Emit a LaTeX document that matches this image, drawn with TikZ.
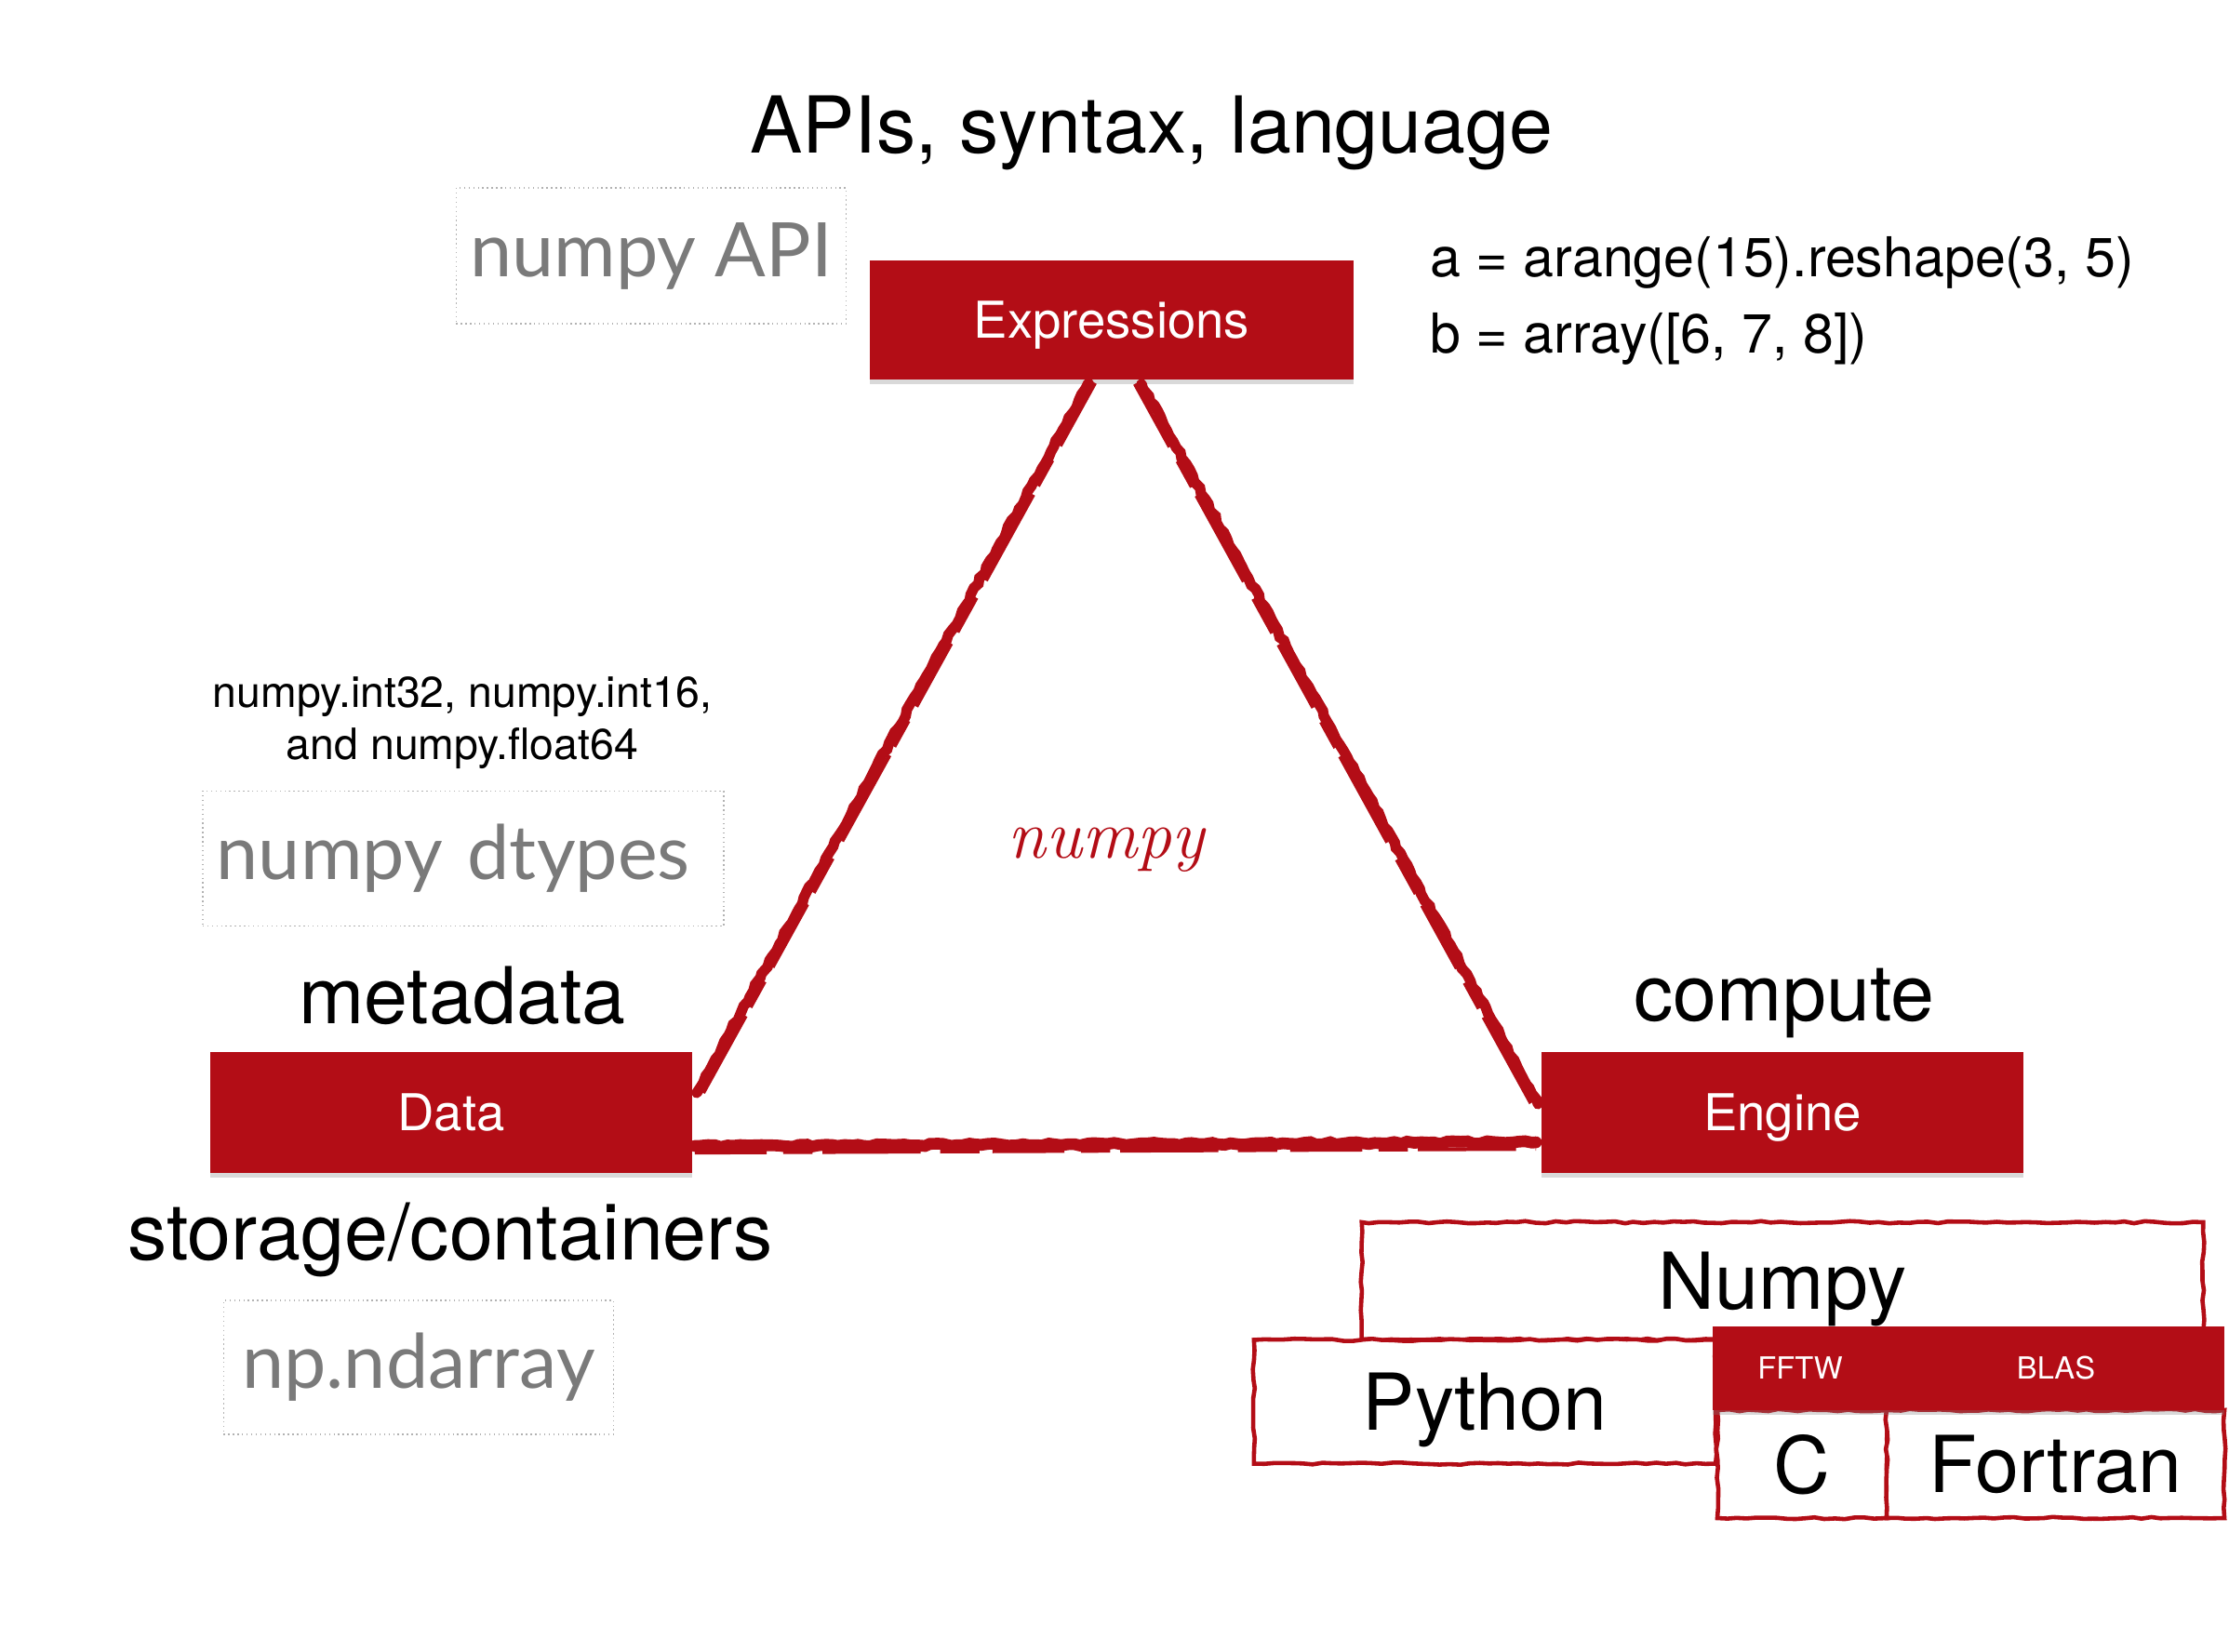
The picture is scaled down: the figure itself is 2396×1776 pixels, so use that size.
\documentclass[tikz,border=0pt]{standalone}
\usepackage{fontspec}
\newfontfamily\helv{TeX Gyre Heros}
\newfontfamily\handfont{Lato}
\usetikzlibrary{positioning, shadows, decorations.pathmorphing}
\definecolor{NumpyRed}{HTML}{B30D16}
\definecolor{NumpyGray}{HTML}{7A7A7A}
\pgfmathsetseed{7}

\begin{document}
\begin{tikzpicture}[x=0.01cm, y=-0.01cm,
    block/.style={rectangle, fill=NumpyRed, text=white, inner sep=0pt, text depth=0pt,
        font=\helv\fontsize{15.5}{18}\selectfont, minimum width=5.18cm, minimum height=1.29cm,
        drop shadow={opacity=0.3, shadow xshift=0pt, shadow yshift=-1.5pt}},
    heading/.style={anchor=base, inner sep=0pt, font=\helv\fontsize{24}{28}\selectfont},
    note/.style={anchor=base, inner sep=0pt, font=\helv\fontsize{13.2}{16}\selectfont},
    snippet/.style={anchor=base west, inner sep=0pt, font=\helv\fontsize{16.8}{20}\selectfont},
    hand/.style={rectangle, draw=gray!60, densely dotted, line width=0.4pt, text=NumpyGray,
        inner sep=0pt, font=\handfont\fontsize{23}{26}\selectfont},
    rough/.style={rectangle, draw=NumpyRed, fill=white, line width=1.3pt, inner sep=0pt, text depth=0pt,
        font=\helv\fontsize{24}{28}\selectfont,
        decorate, decoration={random steps, segment length=3pt, amplitude=0.35pt}},
    chip/.style={rectangle, fill=NumpyRed, text=white, inner sep=0pt, minimum height=0.90cm,
        font=\helv\fontsize{9.3}{11}\selectfont,
        drop shadow={opacity=0.3, shadow xshift=0pt, shadow yshift=-1.5pt}},
    brush/.style={draw=NumpyRed, line width=3.2pt, line cap=round,
        decorate, decoration={random steps, segment length=2pt, amplitude=0.4pt}},
    scratch/.style={draw=NumpyRed, line width=1.2pt,
        dash pattern=on 22pt off 5pt on 9pt off 3pt on 30pt off 6pt on 12pt off 4pt}
]
\useasboundingbox (0,0) rectangle (2396,1776);

% Headings
\node[heading] (apis) at (1238,165) {APIs, syntax, language};
\node[heading] (meta) at (497,1100) {metadata};
\node[heading] (compute) at (1918,1097) {compute};
\node[heading] (storage) at (484,1354) {storage/containers};

% Three corners
\node[block, minimum width=5.20cm, minimum height=1.28cm] (expr) at (1195,344) {Expressions};
\node[block] (data) at (485,1196) {Data};
\node[block] (engine) at (1916,1196) {Engine};

% Code sample
\node[snippet] (codea) at (1537,298) {a = arange(15).reshape(3, 5)};
\node[snippet] (codeb) at (1537,380) {b = array([6, 7, 8])};

% dtypes
\node[note] (dtA) at (497,761) {numpy.int32, numpy.int16,};
\node[note] (dtB) at (497,817) {and numpy.float64};

% Handwritten boxes
\node[hand, minimum width=4.19cm, minimum height=1.46cm] (api) at (700,275) {numpy API};
\node[hand, minimum width=5.60cm, minimum height=1.45cm, text width=5.3cm, align=left] (dtypes) at (498,923) {numpy dtypes};
\node[hand, minimum width=4.19cm, minimum height=1.44cm] (ndarray) at (450,1470) {np.ndarray};

% numpy in the middle
\node[text=NumpyRed, font=\itshape\fontsize{21}{24}\selectfont] (brand) at (1189,914) {numpy};

% Triangle (brush strokes)
\draw[brush] ([xshift=-0.25cm, yshift=-0.03cm]expr.south) -- ([xshift=0.04cm, yshift=0.21cm]data.east);
\draw[scratch, transform canvas={xshift=2pt}] ([xshift=-0.25cm, yshift=-0.03cm]expr.south) -- ([xshift=0.04cm, yshift=0.21cm]data.east);
\draw[brush] ([xshift=0.32cm, yshift=-0.04cm]expr.south) -- ([xshift=-0.03cm, yshift=0.09cm]engine.west);
\draw[scratch, transform canvas={xshift=-2pt}] ([xshift=0.32cm, yshift=-0.04cm]expr.south) -- ([xshift=-0.03cm, yshift=0.09cm]engine.west);
\draw[brush, line width=3.6pt] ([xshift=0.02cm, yshift=-0.36cm]data.east) -- ([xshift=-0.05cm, yshift=-0.32cm]engine.west);
\draw[scratch, transform canvas={yshift=-2pt}] ([xshift=0.02cm, yshift=-0.36cm]data.east) -- ([xshift=-0.05cm, yshift=-0.32cm]engine.west);

% Engine stack
\node[rough, minimum width=9.04cm, minimum height=1.26cm] (numpyb) at (1916,1377) {Numpy};
\node[rough, minimum width=4.96cm, minimum height=1.33cm] (python) at (1596,1507) {Python};
\node[rough, minimum width=1.82cm, minimum height=1.16cm] (cbox) at (1937,1574) {C};
\node[rough, minimum width=3.63cm, minimum height=1.16cm] (fortran) at (2209.5,1574) {Fortran};
\node[chip, minimum width=1.88cm] (fftw) at (1935,1471) {FFTW};
\node[chip, minimum width=3.62cm] (blas) at (2210,1471) {BLAS};
\end{tikzpicture}
\end{document}
